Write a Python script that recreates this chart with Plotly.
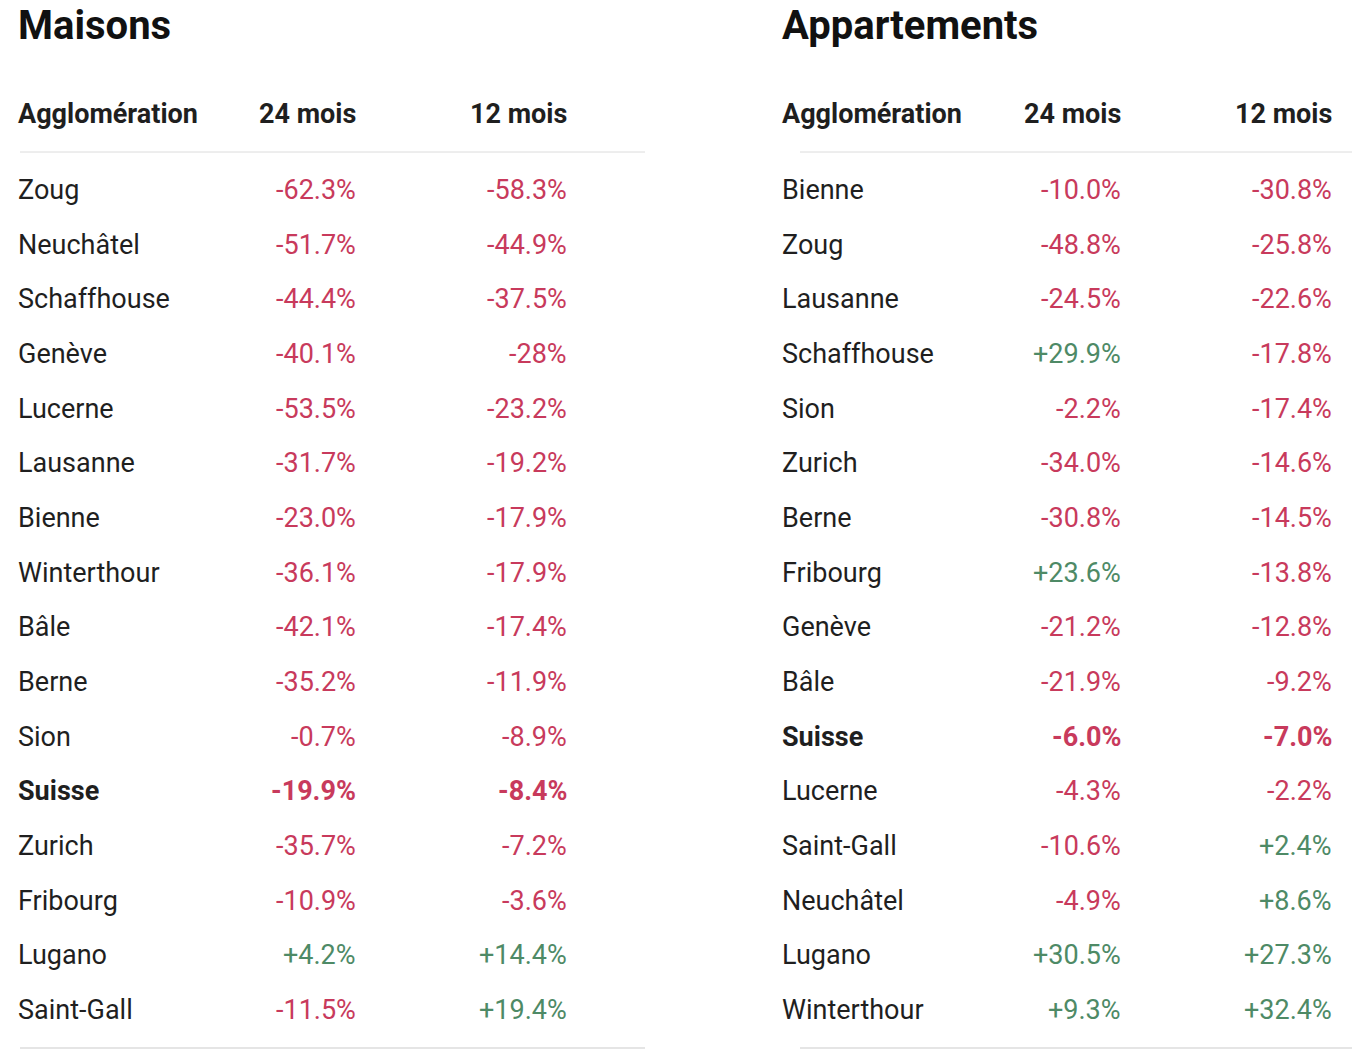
import plotly.graph_objects as go

houses_names = ["Zoug","Neuchâtel","Schaffhouse","Genève","Lucerne","Lausanne","Bienne","Winterthour","Bâle","Berne","Sion","Suisse","Zurich","Fribourg","Lugano","Saint-Gall"]
houses_24 = ["-62.3%","-51.7%","-44.4%","-40.1%","-53.5%","-31.7%","-23.0%","-36.1%","-42.1%","-35.2%","-0.7%","-19.9%","-35.7%","-10.9%","+4.2%","-11.5%"]
houses_12 = ["-58.3%","-44.9%","-37.5%","-28%","-23.2%","-19.2%","-17.9%","-17.9%","-17.4%","-11.9%","-8.9%","-8.4%","-7.2%","-3.6%","+14.4%","+19.4%"]

apts_names = ["Bienne","Zoug","Lausanne","Schaffhouse","Sion","Zurich","Berne","Fribourg","Genève","Bâle","Suisse","Lucerne","Saint-Gall","Neuchâtel","Lugano","Winterthour"]
apts_24 = ["-10.0%","-48.8%","-24.5%","+29.9%","-2.2%","-34.0%","-30.8%","+23.6%","-21.2%","-21.9%","-6.0%","-4.3%","-10.6%","-4.9%","+30.5%","+9.3%"]
apts_12 = ["-30.8%","-25.8%","-22.6%","-17.8%","-17.4%","-14.6%","-14.5%","-13.8%","-12.8%","-9.2%","-7.0%","-2.2%","+2.4%","+8.6%","+27.3%","+32.4%"]

titles = ["Maisons", "Appartements"]
headers = ["Agglomération", "24 mois", "12 mois"]

RED = "#c83a5c"
GREEN = "#4e8a66"
INK = "#1f1f1f"
FONT = "Roboto"

fig = go.Figure()
ann = []
shapes = []

def col(v):
    return GREEN if v.startswith("+") else RED

panels = [(16, 358, 569, houses_names, houses_24, houses_12, 0, 645),
          (780, 1123, 1334, apts_names, apts_24, apts_12, 780, 1360)]
y0, dy = 190, (1010 - 190) / 15
for (xn, x24, x12, names, v24, v12, l0, l1), title in zip(panels, titles):
    ann.append(dict(x=xn, y=25, text=f"<b>{title}</b>", xanchor="left", yanchor="middle",
                    font=dict(size=40, color="#111", family=FONT)))
    for h, x, anc in zip(headers, [xn, x24, x12], ["left", "right", "right"]):
        ann.append(dict(x=x, y=114, text=f"<b>{h}</b>", xanchor=anc, yanchor="middle",
                        font=dict(size=27, color=INK, family=FONT)))
    shapes.append(dict(type="line", xref="x", yref="y", x0=l0 + 20, x1=l1, y0=152, y1=152,
                       line=dict(color="#dcdcdc", width=1)))
    shapes.append(dict(type="line", xref="x", yref="y", x0=l0 + 20, x1=l1, y0=1048, y1=1048,
                       line=dict(color="#dcdcdc", width=1.5)))
    for i, (n, a, b) in enumerate(zip(names, v24, v12)):
        y = y0 + i * dy
        bold = n == "Suisse"
        w = (lambda s: f"<b>{s}</b>") if bold else (lambda s: s)
        ann.append(dict(x=xn, y=y, text=w(n), xanchor="left", yanchor="middle",
                        font=dict(size=27, color=INK, family=FONT)))
        ann.append(dict(x=x24, y=y, text=w(a), xanchor="right", yanchor="middle",
                        font=dict(size=27, color=col(a), family=FONT)))
        ann.append(dict(x=x12, y=y, text=w(b), xanchor="right", yanchor="middle",
                        font=dict(size=27, color=col(b), family=FONT)))

for a in ann:
    a.update(xref="x", yref="y", showarrow=False)

# page body margin (~8px) compensation: shift the axis window
OFF = 8
fig.update_layout(
    width=1360, height=1058, margin=dict(l=0, r=0, t=0, b=0),
    paper_bgcolor="white", plot_bgcolor="white",
    xaxis=dict(range=[OFF, 1360 + OFF], visible=False, fixedrange=True),
    yaxis=dict(range=[1058 + OFF, OFF], visible=False, fixedrange=True),
    annotations=ann, shapes=shapes, showlegend=False,
)
fig.write_html("out.html")
